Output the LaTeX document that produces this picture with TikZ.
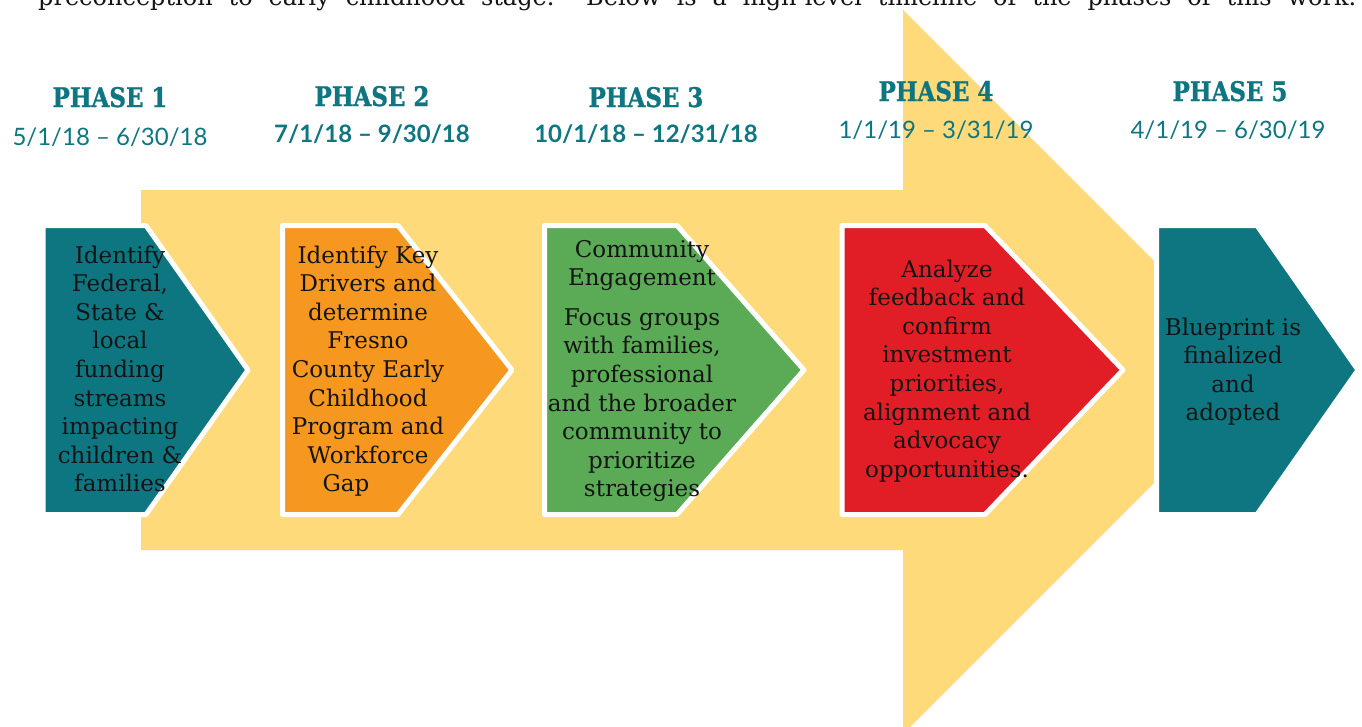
\documentclass[tikz,border=0pt]{standalone}
\usepackage{fontspec}
\setmainfont{DejaVu Serif}
\newfontfamily\headfont[FakeStretch=0.85,FakeBold=1]{DejaVu Serif}
\newfontfamily\datefont[Ligatures=TeX]{Lato}
\definecolor{tealc}{RGB}{14,118,128}
\definecolor{orangec}{RGB}{246,151,31}
\definecolor{greenc}{RGB}{90,170,86}
\definecolor{redc}{RGB}{225,30,38}
\definecolor{yellowc}{RGB}{255,218,122}
\definecolor{txtc}{RGB}{20,20,20}
\begin{document}
\begin{tikzpicture}[x=1pt,y=-1pt,
  chev/.style={draw=white,line width=5pt,line join=round},
  phead/.style={anchor=base,inner sep=0pt,text=tealc,font=\headfont\bfseries\fontsize{27}{30}\selectfont},
  pdate/.style={anchor=base,inner sep=0pt,text=tealc,font=\datefont\fontsize{24}{28}\selectfont},
  pdateb/.style={anchor=base,inner sep=0pt,text=tealc,font=\datefont\bfseries\fontsize{24}{28}\selectfont},
  btext/.style={anchor=base,inner sep=0pt,text=txtc,font=\fontsize{23}{28.6}\selectfont}]
\useasboundingbox (0,0) rectangle (1362,726);
\clip (0,0) rectangle (1362,726);
\fill[white] (0,0) rectangle (1362,726);
% intro line (cut at the top, as in the reference)
\node[anchor=base west,inner sep=0pt,text=txtc,font=\fontsize{24}{28}\selectfont] (intro) at (38,5)
  {\makebox[1318pt][s]{preconception to early childhood stage.\ \ Below is a high-level timeline of the phases of this work.}};
% big arrow
\fill[yellowc] (141,190) -- (903,190) -- (903,10) -- (1155,262) -- (1155,482) -- (903,734) -- (903,550) -- (141,550) -- cycle;
% chevrons
\filldraw[chev,fill=tealc]   (43,225.5) -- (146,225.5) -- (248,370) -- (146,514.5) -- (43,514.5) -- cycle;
\filldraw[chev,fill=orangec] (282.5,225.5) -- (398,225.5) -- (512,370) -- (398,514.5) -- (282.5,514.5) -- cycle;
\filldraw[chev,fill=greenc]  (544.5,225.5) -- (677,225.5) -- (804,370) -- (677,514.5) -- (544.5,514.5) -- cycle;
\filldraw[chev,fill=redc]    (842,225.5) -- (985,225.5) -- (1123,370) -- (985,514.5) -- (842,514.5) -- cycle;
\filldraw[chev,fill=tealc]   (1156.5,225.5) -- (1257,225.5) -- (1358,370) -- (1257,514.5) -- (1156.5,514.5) -- cycle;
% headings
\node[phead] (h1) at (110,107) {PHASE 1};
\node[phead] (h2) at (372,106) {PHASE 2};
\node[phead] (h3) at (646,107) {PHASE 3};
\node[phead] (h4) at (936,101) {PHASE 4};
\node[phead] (h5) at (1230,101) {PHASE 5};
\node[pdate]  (d1) at (110,145) {5/1/18 – 6/30/18};
\node[pdateb] (d2) at (372,142) {7/1/18 – 9/30/18};
\node[pdateb] (d3) at (646,142) {10/1/18 – 12/31/18};
\node[pdate]  (d4) at (936,138) {1/1/19 – 3/31/19};
\node[pdate]  (d5) at (1228,138) {4/1/19 – 6/30/19};
% box texts
\node[btext] (t1) at (120,263) {\parbox[t]{220pt}{\centering Identify\\Federal,\\State \&\\local\\funding\\streams\\impacting\\children \&\\families}};
\node[btext] (t2) at (368,263) {\parbox[t]{220pt}{\centering Identify Key\\Drivers and\\determine\\Fresno\\County Early\\Childhood\\Program and\\Workforce\\Gap\hspace*{44pt}}};
\node[btext] (t3) at (642,257) {\parbox[t]{240pt}{\centering Community\\Engagement\\[11pt]Focus groups\\with families,\\professional\\and the broader\\community to\\prioritize\\strategies}};
\node[btext] (t4) at (947,277) {\parbox[t]{240pt}{\centering Analyze\\feedback and\\confirm\\investment\\priorities,\\alignment and\\advocacy\\opportunities.}};
\node[btext] (t5) at (1233,335) {\parbox[t]{200pt}{\centering Blueprint is\\finalized\\and\\adopted}};
\end{tikzpicture}
\end{document}
